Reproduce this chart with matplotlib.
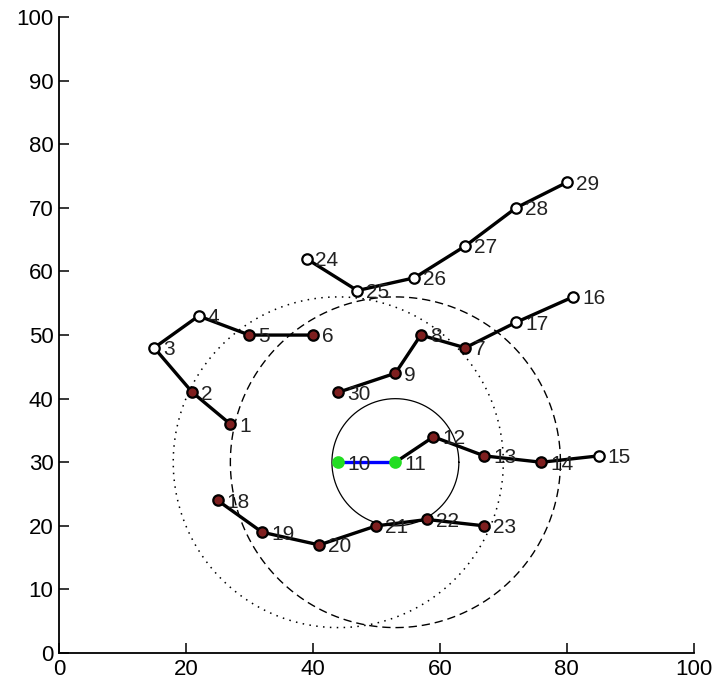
import matplotlib
matplotlib.use("Agg")
import matplotlib.pyplot as plt
import numpy as np

# node coordinates, index = node id - 1
node_x = [27, 21, 15, 22, 30, 40, 64, 57, 53, 44, 53, 59, 67, 76, 85,
          81, 72, 25, 32, 41, 50, 58, 67, 39, 47, 56, 64, 72, 80, 44]
node_y = [36, 41, 48, 53, 50, 50, 48, 50, 44, 30, 30, 34, 31, 30, 31,
          56, 52, 24, 19, 17, 20, 21, 20, 62, 57, 59, 64, 70, 74, 41]
node_ids = list(range(1, 31))

# nodes drawn with a red fill (others are hollow, 10 and 11 are green)
red_nodes = [1, 2, 5, 6, 7, 8, 9, 12, 13, 14, 18, 19, 20, 21, 22, 23, 30]
green_nodes = [10, 11]

# black paths through the nodes
paths = [
    [1, 2, 3, 4, 5, 6],
    [24, 25, 26, 27, 28, 29],
    [30, 9, 8, 7, 17, 16],
    [11, 12, 13, 14, 15],
    [18, 19, 20, 21, 22, 23],
]
blue_path = [10, 11]

# range circles: centre node and radius
circle_centres = [11, 11, 10]
circle_radii = [10, 26, 26]

fig = plt.figure(figsize=(7.14, 6.89), dpi=100)
ax = fig.add_axes([0.0826, 0.0522, 0.889, 0.923])
plt.rcParams['font.family'] = ['Liberation Sans', 'DejaVu Sans']

X = np.array(node_x, dtype=float)
Y = np.array(node_y, dtype=float)

# circles
theta = np.linspace(0, 2 * np.pi, 400)
styles = [dict(ls='-', lw=0.9), dict(ls=(0, (6, 3.5)), lw=1.0),
          dict(ls=(0, (1, 3.5)), lw=1.1)]
for c, r, st in zip(circle_centres, circle_radii, styles):
    ax.plot(X[c - 1] + r * np.cos(theta), Y[c - 1] + r * np.sin(theta),
            color='black', **st)

# paths
for p in paths:
    idx = [n - 1 for n in p]
    ax.plot(X[idx], Y[idx], color='black', lw=2.4, zorder=3)
idx = [n - 1 for n in blue_path]
ax.plot(X[idx], Y[idx], color='#0000ff', lw=2.4, zorder=3)

# markers
for n in node_ids:
    if n in green_nodes:
        fc, ec = '#22dd22', '#22dd22'
    elif n in red_nodes:
        fc, ec = '#7e1f1f', 'black'
    else:
        fc, ec = 'white', 'black'
    ax.plot(X[n - 1], Y[n - 1], 'o', ms=7.5, mfc=fc, mec=ec, mew=1.6, zorder=4)
    ax.text(X[n - 1] + 1.4, Y[n - 1] - 0.3, str(n), fontsize=15,
            ha='left', va='center', color='#222222', zorder=5,
            family=['Liberation Sans', 'DejaVu Sans'])

ax.set_xlim(0, 100)
ax.set_ylim(0, 100)
ax.set_xticks(range(0, 101, 20))
ax.set_yticks(range(0, 101, 10))
ax.spines['top'].set_visible(False)
ax.spines['right'].set_visible(False)
ax.spines['left'].set_linewidth(1.3)
ax.spines['bottom'].set_linewidth(1.3)
ax.tick_params(direction='in', length=7, width=1.1, labelsize=16, pad=4)
for lab in ax.get_xticklabels() + ax.get_yticklabels():
    lab.set_family(['Liberation Sans', 'DejaVu Sans'])

fig.savefig('out.png', dpi=100)
